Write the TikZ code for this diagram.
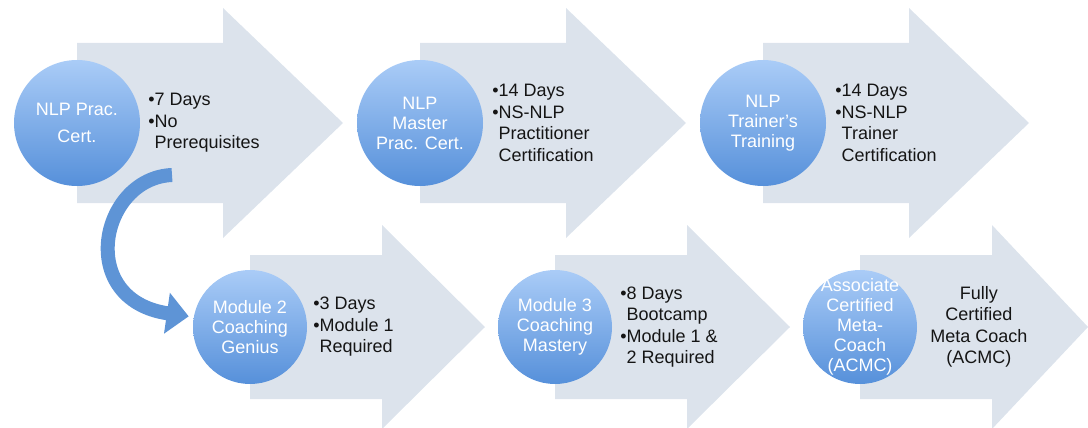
\documentclass[tikz,border=0pt]{standalone}
\usepackage{fontspec}
\setmainfont{Liberation Sans}
\usepackage{xcolor}
\usetikzlibrary{arrows.meta}
\usetikzlibrary{positioning}
\usetikzlibrary{backgrounds}

\definecolor{bandgray}{HTML}{DCE3EC}
\definecolor{ballhi}{HTML}{AACCF7}
\definecolor{balllo}{HTML}{5690DA}
\definecolor{bendblue}{HTML}{5E94D6}
\definecolor{ink}{HTML}{151515}

\newcommand{\bpt}{\textbullet}
\newcommand{\bsp}{\phantom{\textbullet}}

\begin{document}
\begin{tikzpicture}[x=1pt,y=-1pt,node distance=343pt,
  ball/.style={circle,minimum size=126pt,inner sep=-20pt,top color=ballhi,bottom color=balllo,
    text=white,align=center,font=\fontsize{18}{20}\selectfont},
  small ball/.style={ball,minimum size=114pt},
  info/.style={align=left,inner sep=0pt,text=ink,font=\fontsize{18}{21.5}\selectfont},
  band/.style={fill=bandgray},
  bend arrow/.style={draw=bendblue,line width=14pt,-{Triangle[length=22pt,width=40pt]},shorten >=5pt}]

  \useasboundingbox (0,0) rectangle (1088,428);

  % top row
  \node[ball] (C1) at (77,123) {NLP Prac.\\[7pt]Cert.};
  \node[ball] (C2) [right of=C1] {NLP\\Master\\Prac. Cert.};
  \node[ball] (C3) [right of=C2] {NLP\\Trainer’s\\Training};

  \node[info,right=8pt of C1] (T1) {\bpt7 Days\\\bpt No\\\bsp Prerequisites};
  \node[info,right=9pt of C2] (T2) {\bpt14 Days\\\bpt NS-NLP\\\bsp Practitioner\\\bsp Certification};
  \node[info,right=9pt of C3] (T3) {\bpt14 Days\\\bpt NS-NLP\\\bsp Trainer\\\bsp Certification};

  % bottom row
  \node[small ball] (C4) at (250,327) {Module 2\\Coaching\\Genius};
  \node[small ball,node distance=305pt] (C5) [right of=C4] {Module 3\\Coaching\\Mastery};
  \node[small ball,node distance=305pt] (C6) [right of=C5] {Associate\\Certified\\Meta-\\Coach\\(ACMC)};

  \node[info,right=6pt of C4] (T4) {\bpt3 Days\\\bpt Module 1\\\bsp Required};
  \node[info,right=8pt of C5] (T5) {\bpt8 Days\\\bsp Bootcamp\\\bpt Module 1 \&\\\bsp 2 Required};
  \node[info,align=center,right=13pt of C6] (T6) {Fully\\Certified\\Meta Coach\\(ACMC)};

  % arrow bands behind the balls
  \begin{scope}[on background layer]
    \fill[band,shift={(C1)}] (0,-80) -- (146,-80) -- (146,-115) -- (266,0) -- (146,115) -- (146,80) -- (0,80) -- cycle;
    \fill[band,shift={(C2)}] (0,-80) -- (146,-80) -- (146,-115) -- (266,0) -- (146,115) -- (146,80) -- (0,80) -- cycle;
    \fill[band,shift={(C3)}] (0,-80) -- (146,-80) -- (146,-115) -- (266,0) -- (146,115) -- (146,80) -- (0,80) -- cycle;
    \fill[band,shift={(C4)}] (0,-72) -- (132,-72) -- (132,-102) -- (235,0) -- (132,102) -- (132,72) -- (0,72) -- cycle;
    \fill[band,shift={(C5)}] (0,-72) -- (132,-72) -- (132,-102) -- (235,0) -- (132,102) -- (132,72) -- (0,72) -- cycle;
    \fill[band,shift={(C6)}] (0,-72) -- (132,-72) -- (132,-102) -- (228,0) -- (132,102) -- (132,72) -- (0,72) -- cycle;
  \end{scope}

  % practitioner on to the coaching track
  \coordinate (B) at (172,175);
  \draw[bend arrow] (B) .. controls (100,178) and (75,300) .. (C4.170);
\end{tikzpicture}
\end{document}
